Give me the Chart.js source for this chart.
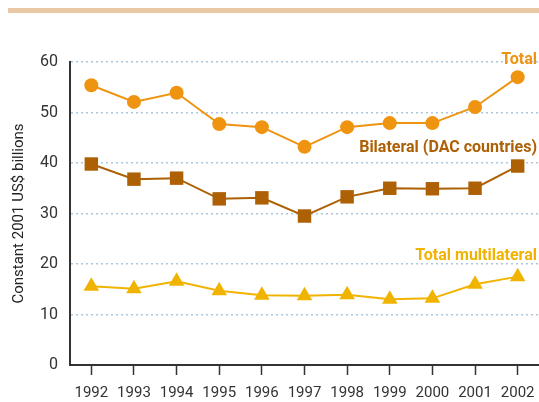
<!DOCTYPE html>
<html>
<head>
<meta charset="utf-8">
<script src="https://cdn.jsdelivr.net/npm/chart.js@4"></script>
<style>
  html, body { margin: 0; padding: 0; background: #fff; overflow: hidden; }
  #wrap { position: relative; width: 539px; height: 402px; }
  #band { position: absolute; left: 8px; top: 8px; width: 531px; height: 5px; background: #e9c8a6; }
  canvas { display: block; }
</style>
</head>
<body>
<div id="wrap">
  <div id="band"></div>
  <canvas id="myChart" width="539" height="402"></canvas>
</div>
<script>
const years = ['1992', '1993', '1994', '1995', '1996', '1997', '1998', '1999', '2000', '2001', '2002'];
const total = [55.4, 52.1, 53.9, 47.7, 47.1, 43.2, 47.1, 47.9, 47.9, 51.1, 57.0];
const bilateral = [39.8, 36.8, 37.0, 32.9, 33.1, 29.5, 33.3, 35.0, 34.9, 35.0, 39.4];
const multilateral = [15.6, 15.1, 16.6, 14.7, 13.8, 13.7, 13.9, 13.0, 13.2, 16.0, 17.5];
const yTicks = [0, 10, 20, 30, 40, 50, 60];

const font = "'Roboto', 'Liberation Sans', sans-serif";

// series names drawn right-aligned above each line
const seriesLabels = {
    id: 'seriesLabels',
    afterDraw: function (chart) {
        let ctx = chart.ctx;
        let right = chart.chartArea.right - 2;
        let y = chart.scales.y;
        ctx.save();
        ctx.textAlign = 'right';
        ctx.textBaseline = 'alphabetic';
        ctx.font = "bold 16px " + font;
        ctx.fillStyle = '#ef9410';
        ctx.fillText('Total', right, y.getPixelForValue(59.6));
        ctx.fillStyle = '#ad6004';
        ctx.fillText('Bilateral (DAC countries)', right, y.getPixelForValue(42.1));
        ctx.fillStyle = '#f0b400';
        ctx.fillText('Total multilateral', right, y.getPixelForValue(20.8));
        ctx.restore();
    }
};

function series(label, data, color, style, radius) {
    return {
        label: label,
        data: data,
        borderColor: color,
        backgroundColor: color,
        borderWidth: 2,
        pointStyle: style,
        pointRadius: radius,
        pointHoverRadius: radius,
        pointBorderWidth: 0,
        tension: 0,
        clip: false
    };
}

let ctx = document.getElementById('myChart').getContext('2d');
new Chart(ctx, {
    type: 'line',
    data: {
        labels: years,
        datasets: [
            series('Total', total, '#ef9410', 'circle', 7),
            series('Bilateral (DAC countries)', bilateral, '#ad6004', 'rect', 9.5),
            series('Total multilateral', multilateral, '#f0b400', 'triangle', 9)
        ]
    },
    plugins: [seriesLabels],
    options: {
        responsive: false,
        animation: false,
        layout: { autoPadding: false, padding: { top: 62, right: 0, left: 0, bottom: 0 } },
        plugins: { legend: { display: false }, tooltip: { enabled: false } },
        scales: {
            x: {
                offset: true,
                afterFit: function (scale) {
                    scale.height = 37;
                    scale.paddingLeft = 0;
                    scale.paddingRight = 0;
                },
                grid: { drawOnChartArea: false, drawTicks: true, tickLength: 10, tickColor: '#333', tickWidth: 1.5 },
                border: { color: '#333', width: 2 },
                ticks: { color: '#333', padding: 9, font: { family: font, size: 15 }, maxRotation: 0 }
            },
            y: {
                min: 0,
                max: 60,
                afterBuildTicks: function (scale) {
                    scale.ticks = yTicks.map(function (v) { return { value: v }; });
                },
                afterFit: function (scale) {
                    scale.width = 70;
                    scale.paddingTop = 0;
                    scale.paddingBottom = 0;
                },
                grid: {
                    drawTicks: false,
                    lineWidth: 1.5,
                    color: function (c) { return c.tick && c.tick.value === 0 ? 'rgba(0,0,0,0)' : '#a9c7de'; }
                },
                border: { color: '#333', width: 2, dash: [2, 3] },
                ticks: { color: '#333', padding: 12, font: { family: font, size: 16 } },
                title: {
                    display: true,
                    text: 'Constant 2001 US$ billions',
                    color: '#222',
                    font: { family: font, size: 15 },
                    padding: { top: 10, bottom: 0 }
                }
            }
        }
    }
});
</script>
</body>
</html>
